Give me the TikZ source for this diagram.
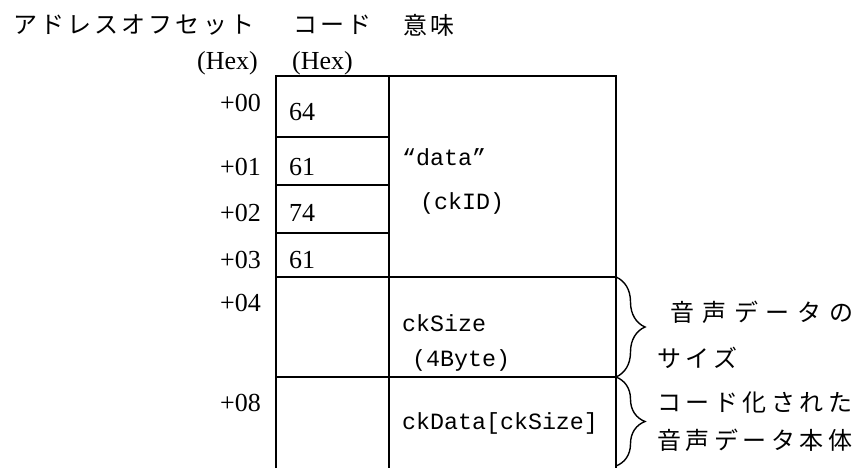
\documentclass[tikz,border=0pt]{standalone}
\usepackage{fontspec}
\setmainfont{Liberation Serif}
\setmonofont{Liberation Mono}
\newfontfamily\jpA[LetterSpace=13]{Noto Sans CJK JP}
\newfontfamily\jpB[LetterSpace=19]{Noto Sans CJK JP}
\newfontfamily\jpC[LetterSpace=33]{Noto Sans CJK JP}
\usetikzlibrary{decorations.pathreplacing}
\begin{document}
\begin{tikzpicture}[x=1pt,y=-1pt,
  gridline/.style={line width=2.6pt},
  bracestyle/.style={line width=1.4pt, decorate, decoration={brace, amplitude=29pt, aspect=0.5}},
  jtop/.style={anchor=west, inner sep=0pt, font=\jpA\fontsize{24}{28}\selectfont},
  jrightA/.style={anchor=west, inner sep=0pt, font=\jpC\fontsize{24}{28}\selectfont},
  jrightB/.style={anchor=west, inner sep=0pt, font=\jpB\fontsize{24}{28}\selectfont},
  lat/.style={anchor=west, inner sep=0pt, font=\rmfamily\fontsize{26}{30}\selectfont},
  latE/.style={anchor=east, inner sep=0pt, font=\rmfamily\fontsize{26}{30}\selectfont},
  mono/.style={anchor=west, inner sep=0pt, font=\ttfamily\fontsize{23.3}{27}\selectfont}]
\useasboundingbox (0,0) rectangle (861,468);
% table frame
\coordinate (L0) at (276,76);  \coordinate (M0) at (389,76);  \coordinate (R0) at (616,76);
\coordinate (L1) at (276,137); \coordinate (M1) at (389,137);
\coordinate (L2) at (276,185); \coordinate (M2) at (389,185);
\coordinate (L3) at (276,233); \coordinate (M3) at (389,233);
\coordinate (L4) at (276,277); \coordinate (R4) at (616,277);
\coordinate (L5) at (276,377); \coordinate (R5) at (616,377);
\coordinate (LB) at (276,468); \coordinate (MB) at (389,468); \coordinate (RB) at (616,468);
\coordinate (BE) at (616,466);
\draw[gridline] (LB) -- (L0) -- (R0) -- (RB);
\draw[gridline] (M0) -- (MB);
\draw[gridline] (L1) -- (M1);
\draw[gridline] (L2) -- (M2);
\draw[gridline] (L3) -- (M3);
\draw[gridline] (L4) -- (R4);
\draw[gridline] (L5) -- (R5);
% braces
\draw[bracestyle] (R4) -- (R5);
\draw[bracestyle] (R5) -- (BE);
% headings
\node[jtop] (h1) at (13,25) {アドレスオフセット};
\node[jtop] (h2) at (293,25) {コード};
\node[jtop] (h3) at (403,25) {意味};
\node[lat] (hx1) at (197,63) {(Hex)};
\node[lat] (hx2) at (292,63) {(Hex)};
% offsets
\node[latE] (a0) at (261,103) {+00};
\node[latE] (a1) at (261,167) {+01};
\node[latE] (a2) at (261,213) {+02};
\node[latE] (a3) at (261,260) {+03};
\node[latE] (a4) at (261,303) {+04};
\node[latE] (a8) at (261,403) {+08};
% codes
\node[lat] (c0) at (289,112) {64};
\node[lat] (c1) at (289,167) {61};
\node[lat] (c2) at (289,213) {74};
\node[lat] (c3) at (289,260) {61};
% meanings
\node[mono] (m1) at (402,157) {“data”};
\node[mono] (m2) at (420,203) {(ckID)};
\node[mono] (m3) at (402,323) {ckSize};
\node[mono] (m4) at (412,360) {(4Byte)};
\node[mono] (m5) at (402,423) {ckData[ckSize]};
% right notes
\node[jrightA] (r1) at (670,312) {音声データの};
\node[jrightB] (r2) at (657,358) {サイズ};
\node[jrightB] (r3) at (657,403) {コード化された};
\node[jrightB] (r4) at (657,440) {音声データ本体};
\end{tikzpicture}
\end{document}
